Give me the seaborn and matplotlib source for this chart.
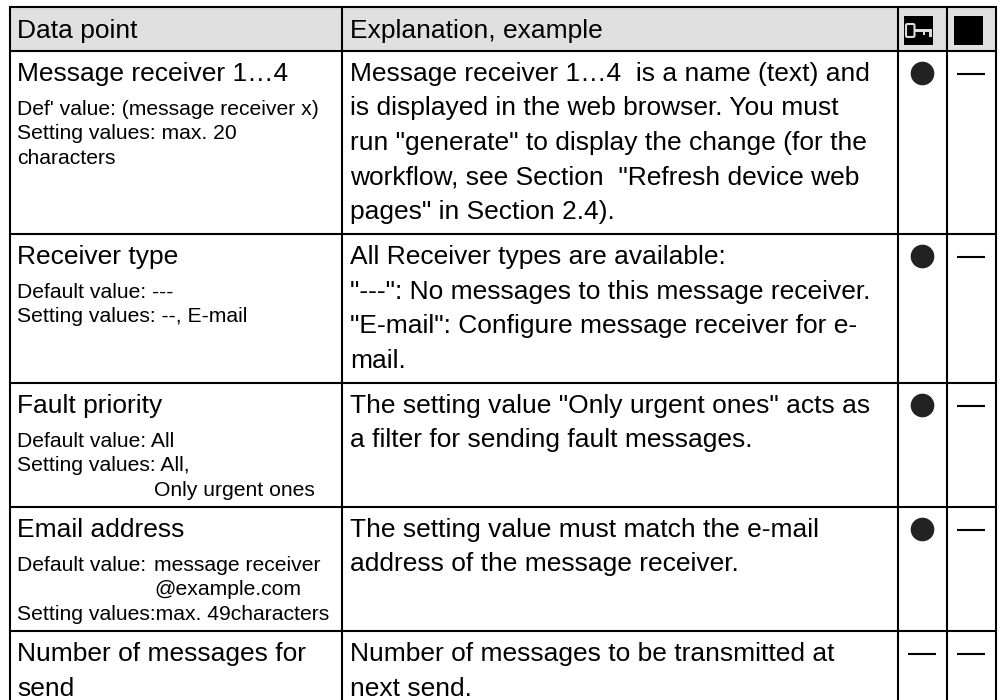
import numpy as np
import pandas as pd
import seaborn as sns
import matplotlib.pyplot as plt
from matplotlib.patches import Rectangle, FancyBboxPatch

# таблица: заголовки и текст по строкам
headers = ["Data point", "Explanation, example"]
names = [
    ["Message receiver 1…4"],
    ["Receiver type"],
    ["Fault priority"],
    ["Email address"],
    ["Number of messages for", "send"],
]
# \t - продолжение строки с отступом
details = [
    ["Def' value: (message receiver x)", "Setting values: max. 20", "characters"],
    ["Default value: ---", "Setting values: --, E-mail"],
    ["Default value: All", "Setting values: All,", "\tOnly urgent ones"],
    ["Default value:\tmessage receiver", "\t@example.com", "Setting values:max. 49characters"],
    [],
]
explanations = [
    ["Message receiver 1…4  is a name (text) and",
     "is displayed in the web browser. You must",
     "run \"generate\" to display the change (for the",
     "workflow, see Section  \"Refresh device web",
     "pages\" in Section 2.4)."],
    ["All Receiver types are available:",
     "\"---\": No messages to this message receiver.",
     "\"E-mail\": Configure message receiver for e-",
     "mail."],
    ["The setting value \"Only urgent ones\" acts as",
     "a filter for sending fault messages."],
    ["The setting value must match the e-mail",
     "address of the message receiver."],
    ["Number of messages to be transmitted at",
     "next send."],
]
access_marks = ["dot", "dot", "dot", "dot", "dash"]
other_marks = ["dash", "dash", "dash", "dash", "dash"]

# размеры сетки в пикселях
col_widths = [332, 556, 49, 49]
row_heights = [44, 183, 149, 124, 124, 80]

W, H = 1002, 700
sns.set_theme(style="white")
plt.rcParams['font.family'] = ['Liberation Sans', 'DejaVu Sans']

fig, ax = plt.subplots(figsize=(W / 100, H / 100), dpi=100)
ax.set_position([0, 0, 1, 1])
ax.set_xlim(0, W)
ax.set_ylim(H, 0)
ax.axis('off')

x_edges = 10 + np.cumsum([0] + col_widths)
y_edges = 7 + np.cumsum([0] + row_heights)
line = dict(color='black', lw=1.5, zorder=3)

# шапка и линии
ax.add_patch(Rectangle((x_edges[0], y_edges[0]), x_edges[-1] - x_edges[0], row_heights[0],
                       facecolor='#e0e0e0', edgecolor='none', zorder=0))
for x in x_edges:
    ax.plot([x, x], [y_edges[0], H], solid_capstyle='butt', **line)
for y in y_edges[:-1]:
    ax.plot([x_edges[0] - 1, x_edges[-1] + 1], [y, y], solid_capstyle='butt', **line)

big = 19.0
small = 15.2
ax.text(x_edges[0] + 7, 38, headers[0], fontsize=big, color='black')
ax.text(x_edges[1] + 8, 38, headers[1], fontsize=big, color='black')

# текст строк
for i in range(len(names)):
    top = y_edges[i + 1]
    for j, s in enumerate(names[i]):
        ax.text(x_edges[0] + 7, top + 30 + 34.5 * j, s, fontsize=big, color='black')
    for j, s in enumerate(explanations[i]):
        ax.text(x_edges[1] + 8, top + 30 + 34.5 * j, s, fontsize=big, color='black')
    for j, s in enumerate(details[i]):
        y = top + 64 + 24.3 * j
        parts = s.split("\t")
        if parts[0]:
            ax.text(x_edges[0] + 7, y, parts[0], fontsize=small, color='black')
        if len(parts) > 1:
            ax.text(x_edges[0] + 144, y, parts[1], fontsize=small, color='black')

# значки в шапке
key = '#dddddd'
ax.add_patch(Rectangle((904, 16), 29, 29, facecolor='black', edgecolor='none', zorder=2))
ax.add_patch(Rectangle((954, 16), 29, 29, facecolor='black', edgecolor='none', zorder=2))
ax.add_patch(FancyBboxPatch((907.5, 25.5), 5.5, 10, boxstyle='round,pad=1.5', facecolor='black',
                            edgecolor=key, lw=1.5, zorder=4))
ax.add_patch(Rectangle((915, 29), 17, 3, facecolor=key, edgecolor='none', zorder=4))
ax.add_patch(Rectangle((923, 29), 2.5, 6, facecolor=key, edgecolor='none', zorder=4))
ax.add_patch(Rectangle((929, 29), 3, 8, facecolor=key, edgecolor='none', zorder=4))

# точки и прочерки
marks = pd.DataFrame({
    'col': [0] * len(access_marks) + [1] * len(other_marks),
    'row': list(range(len(access_marks))) * 2,
    'mark': access_marks + other_marks,
})
marks['x'] = x_edges[2:4][marks['col']] + 24.5
marks['y'] = y_edges[1:6][marks['row']] + 22
dots = marks[marks['mark'] == 'dot']
dashes = marks[marks['mark'] == 'dash'].assign(y=lambda d: d['y'] + 0.8)
sns.scatterplot(data=dots, x='x', y='y', marker='o', s=290, color='#222222', linewidth=0, ax=ax, zorder=5)
sns.scatterplot(data=dashes, x='x', y='y', marker='_', s=400, color='black', linewidth=1.5, ax=ax, zorder=5)
ax.axis('off')

fig.savefig('out.png', dpi=100)
